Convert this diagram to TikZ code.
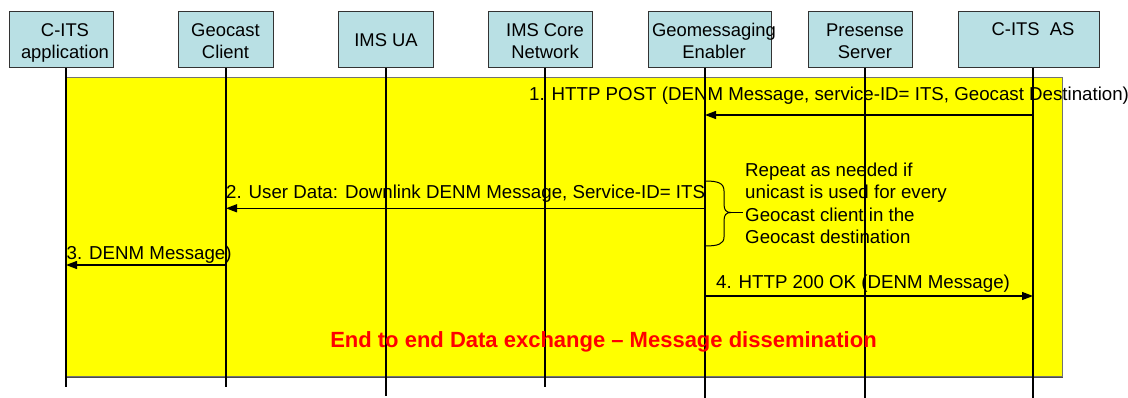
\documentclass[tikz,border=0pt]{standalone}
\usepackage{fontspec}
\setmainfont{Liberation Sans}
\usetikzlibrary{arrows.meta}
\definecolor{boxfill}{RGB}{185,224,228}
\definecolor{bgyellow}{RGB}{255,255,0}
\definecolor{titlered}{RGB}{255,0,0}
\tikzset{
  actor/.style={draw=black!80, line width=1pt, fill=boxfill, inner sep=0pt, minimum height=56pt},
  lbl/.style={inner sep=0pt, align=center, font=\fontsize{18.4}{22}\selectfont},
  msgtxt/.style={inner sep=0pt, font=\fontsize{18.7}{22}\selectfont},
  life/.style={line width=1.3pt, black},
  msg/.style={line width=1.3pt, black, -{Triangle[length=11pt,width=8pt]}},
}
\begin{document}
\begin{tikzpicture}[x=1pt,y=-1pt]
\useasboundingbox (0,0) rectangle (1128,398);

% shaded message area
\fill[black!70] (67,78) rectangle (1063,377.5);
\draw[draw=black!55, line width=0.8pt, fill=bgyellow] (66,77) rectangle (1062,376.5);

% participant boxes
\node[actor, minimum width=104pt] (appBox)  at (61,40)     {};
\node[actor, minimum width=95pt]  (geoBox)  at (225.5,40)  {};
\node[actor, minimum width=95pt]  (uaBox)   at (385.5,40)  {};
\node[actor, minimum width=104pt] (coreBox) at (540,40)    {};
\node[actor, minimum width=123pt] (gmBox)   at (709.5,40)  {};
\node[actor, minimum width=104pt] (presBox) at (860,40)    {};
\node[actor, minimum width=141pt] (asBox)   at (1028.5,40) {};

% labels: the base anchor sits on the last line
\node[lbl, anchor=base] (appT)  at (65,58.3)    {C-ITS\\application};
\node[lbl, anchor=base] (geoT)  at (225.5,58.3) {Geocast\\Client};
\node[lbl, anchor=base] (uaT)   at (386,46.5)   {IMS UA};
\node[lbl, anchor=base] (coreT) at (545,58.3)   {IMS Core\\Network};
\node[lbl, anchor=base] (gmT)   at (714,58.3)   {Geomessaging\\Enabler};
\node[lbl, anchor=base] (presT) at (865,58.3)   {Presense\\Server};
\node[lbl, anchor=base] (asT)   at (1033,36)    {C-ITS\ \ AS};

% lifelines
\coordinate (L1t) at (66,68);   \coordinate (L1b) at (66,387);
\coordinate (L2t) at (226,68);  \coordinate (L2b) at (226,387);
\coordinate (L3t) at (386,68);  \coordinate (L3b) at (386,396);
\coordinate (L4t) at (545,68);  \coordinate (L4b) at (545,387);
\coordinate (L5t) at (705,68);  \coordinate (L5b) at (705,398);
\coordinate (L6t) at (865,68);  \coordinate (L6b) at (865,398);
\coordinate (L7t) at (1033,68); \coordinate (L7b) at (1033,398);
\foreach \i in {1,...,7} \draw[life] (L\i t) -- (L\i b);

% messages
\coordinate (m1a) at (L7t |- 0,115);   \coordinate (m1b) at (L5t |- 0,115);
\coordinate (m2a) at (L5t |- 0,208.3); \coordinate (m2b) at (L2t |- 0,208.3);
\coordinate (m3a) at (L2t |- 0,265);   \coordinate (m3b) at (L1t |- 0,265);
\coordinate (m4a) at (L5t |- 0,296);   \coordinate (m4b) at (L7t |- 0,296);

\draw[msg] (m1a) -- (m1b);
\draw[msg] (m2a) -- (m2b);
\draw[msg] (m3a) -- (m3b);
\draw[msg] (m4a) -- (m4b);

\node[msgtxt, anchor=base west] (m1T) at (529,101) {1. HTTP POST (DENM Message, service-ID= ITS, Geocast Destination)};
\node[msgtxt, anchor=base west] (m2T) at (226,199) {2. User Data: Downlink DENM Message, Service-ID= ITS};
\node[msgtxt, anchor=base west] (m3T) at (66.5,260) {3. DENM Message)};
\node[msgtxt, anchor=base west] (m4T) at (716,288.5) {4. HTTP 200 OK (DENM Message)};

% repetition brace and note
\coordinate (brTop) at (705,181);
\coordinate (brTip) at (731,212.5);
\coordinate (brBot) at (705,246);
\coordinate (brEnd) at (743,212.5);
\draw[line width=1pt] (brTop) .. controls (718,181) and (724,183) .. (724,191) -- (724,204)
   .. controls (724,210) and (726,212.5) .. (brTip)
   .. controls (726,212.5) and (724,215) .. (724,221) -- (724,237)
   .. controls (724,244) and (718,246) .. (brBot);
\draw[line width=1pt] (brTip) -- (brEnd);
\node[lbl, align=left, anchor=base west, font=\fontsize{18.7}{22.2}\selectfont] (noteT) at (745,243.3)
  {Repeat as needed if\\unicast is used for every\\Geocast client in the\\Geocast destination};

% caption inside the message area
\node[inner sep=0pt, anchor=base, text=titlered, font=\fontsize{22}{26}\selectfont\bfseries] (title) at (603.5,347.5)
  {End to end Data exchange -- Message dissemination};
\end{tikzpicture}
\end{document}
